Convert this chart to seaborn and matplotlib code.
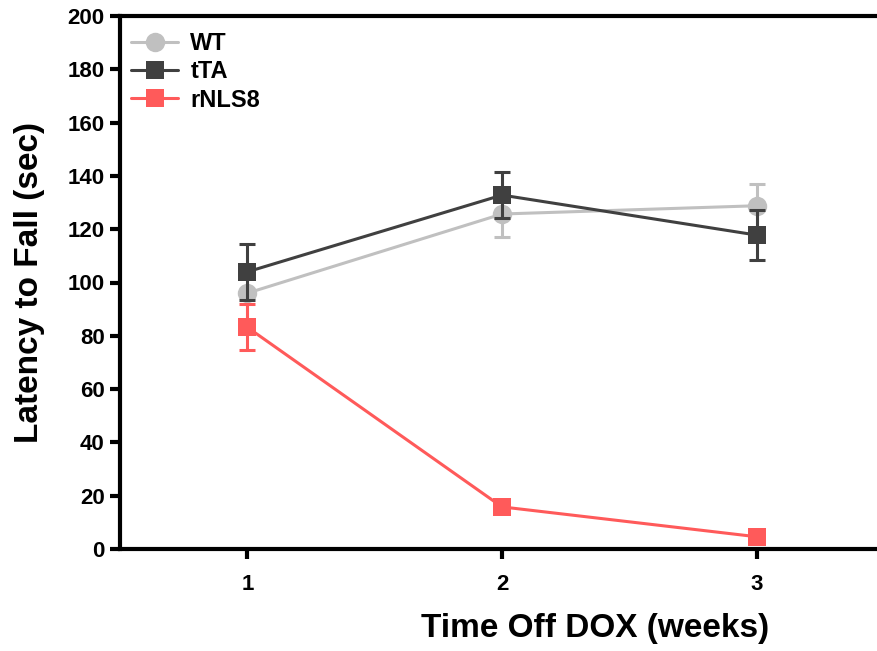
import matplotlib
matplotlib.use("Agg")
import matplotlib.pyplot as plt
import seaborn as sns
import pandas as pd
import numpy as np

weeks = [1, 2, 3]
groups = ["WT", "tTA", "rNLS8"]
wt_mean = [96.0, 125.7, 128.8]
wt_err = [11.0, 8.5, 8.3]
tta_mean = [104.0, 132.8, 117.8]
tta_err = [10.5, 8.5, 9.3]
rnls_mean = [83.2, 15.8, 4.6]
rnls_err = [8.6, 1.5, 1.0]
yticks = [0, 20, 40, 60, 80, 100, 120, 140, 160, 180, 200]

colors = {"WT": "#c0c0c0", "tTA": "#404040", "rNLS8": "#ff5a5a"}
markers = {"WT": "o", "tTA": "s", "rNLS8": "s"}
msize = {"WT": 14, "tTA": 13, "rNLS8": 13}

df = pd.DataFrame({
    "week": weeks * 3,
    "group": ["WT"] * 3 + ["tTA"] * 3 + ["rNLS8"] * 3,
    "mean": wt_mean + tta_mean + rnls_mean,
    "err": wt_err + tta_err + rnls_err,
})

sns.set_style("ticks")
plt.rcParams["font.family"] = ["Liberation Sans", "DejaVu Sans"]
plt.rcParams["font.weight"] = "bold"
plt.rcParams["text.color"] = "black"
plt.rcParams["axes.labelcolor"] = "black"
plt.rcParams["xtick.color"] = "black"
plt.rcParams["ytick.color"] = "black"

fig = plt.figure(figsize=(8.77, 6.51), dpi=100)
ax = fig.add_axes([120 / 877, 102 / 651, 764 / 877, 533 / 651])

for i, g in enumerate(groups):
    sub = df[df["group"] == g]
    z = 3 + i * 2
    ax.errorbar(sub["week"], sub["mean"], yerr=sub["err"], fmt="none",
                ecolor=colors[g], elinewidth=2.2, capsize=5.5, capthick=2.2,
                zorder=z)
    sns.lineplot(data=sub, x="week", y="mean", ax=ax, color=colors[g],
                 marker=markers[g], markersize=msize[g], markeredgewidth=0,
                 linewidth=2.2, label=g, zorder=z + 1)

ax.set_xlim(0.5, 3.5)
ax.set_ylim(0, 200)
ax.set_xticks(weeks)
ax.set_xticklabels([str(w) for w in weeks])
ax.set_yticks(yticks)
ax.tick_params(axis="both", direction="out", length=7, width=3,
               labelsize=16, pad=4, colors="black")
for lab in ax.get_xticklabels() + ax.get_yticklabels():
    lab.set_fontweight("bold")
ax.tick_params(axis="x", pad=11)

for s in ["left", "bottom", "top"]:
    ax.spines[s].set_linewidth(3)
    ax.spines[s].set_color("black")
ax.spines["right"].set_visible(False)

ax.set_xlabel("Time Off DOX (weeks)", fontsize=24, fontweight="bold", color="black")
ax.set_ylabel("Latency to Fall (sec)", fontsize=24, fontweight="bold", color="black")
ax.xaxis.set_label_coords((595 - 120) / 764, -(613 - 549) / 533)
ax.yaxis.set_label_coords(-(120 - 45) / 764, 0.5)

leg = ax.legend(loc="upper left", bbox_to_anchor=(-0.01, 1.005), frameon=False,
                fontsize=17, handlelength=2.0, handletextpad=0.5,
                labelspacing=0.22, borderaxespad=0.4)
for t in leg.get_texts():
    t.set_fontweight("bold")
    t.set_color("black")

fig.savefig("out.png", dpi=100)
